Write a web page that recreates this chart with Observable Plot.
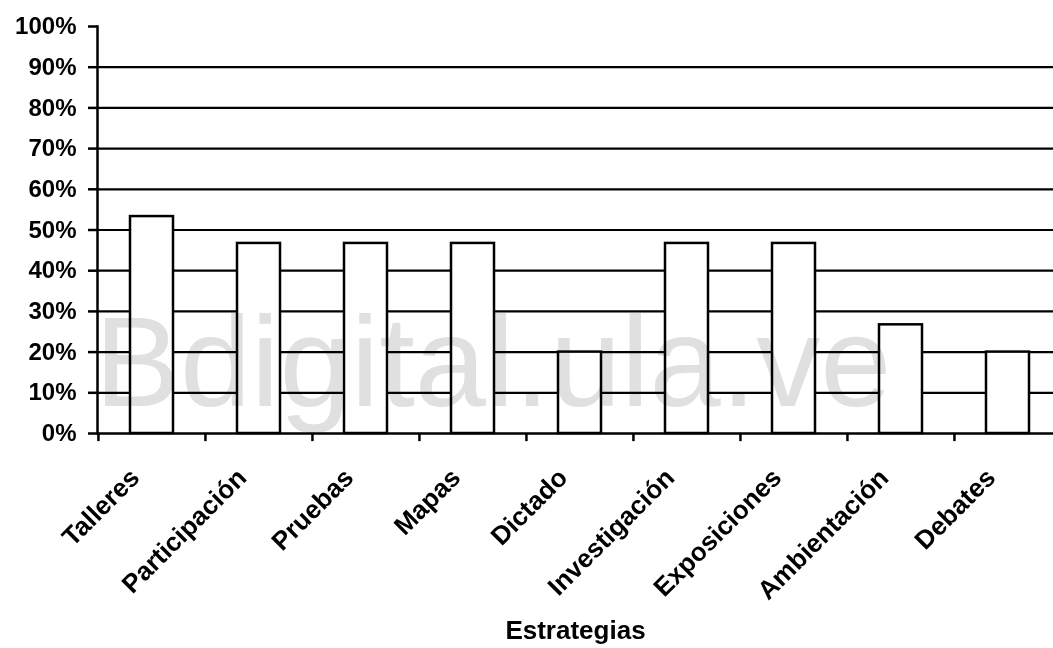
<!DOCTYPE html>
<html>
<head>
<meta charset="utf-8">
<script src="https://cdn.jsdelivr.net/npm/d3@7"></script>
<script src="https://cdn.jsdelivr.net/npm/@observablehq/plot@0.6"></script>
<style>
  html, body { margin: 0; padding: 0; background: #fff; }
  #chart svg { display: block; }
</style>
</head>
<body>
<div id="chart"></div>
<script>
const categories = ["Talleres", "Participación", "Pruebas", "Mapas", "Dictado", "Investigación", "Exposiciones", "Ambientación", "Debates"];
const values = [53.3, 46.7, 46.7, 46.7, 20, 46.7, 46.7, 26.7, 20];
const yTicks = [0, 10, 20, 30, 40, 50, 60, 70, 80, 90, 100];
const gridValues = [10, 20, 30, 40, 50, 60, 70, 80, 90];
const xTitle = "Estrategias";
const watermark = "Bdigital.ula.ve";

const data = categories.map((c, i) => ({categoria: c, valor: values[i]}));

const W = 1053, H = 648;
const mL = 97, mR = -8, mT = 26, mB = 215;
const step = (W - mL - mR) / categories.length;

const chart = Plot.plot({
  width: W,
  height: H,
  marginLeft: mL,
  marginRight: mR,
  marginTop: mT,
  marginBottom: mB,
  style: {fontFamily: "'Liberation Sans', Arial, sans-serif", background: "#fff", color: "#000", overflow: "visible"},
  x: {domain: categories, paddingInner: 0.6, paddingOuter: 0.3},
  y: {domain: [0, 100]},
  marks: [
    Plot.ruleY(gridValues, {stroke: "#000", strokeWidth: 2.2}),
    Plot.barY(data, {x: "categoria", y: "valor", fill: "#fff", stroke: "#000", strokeWidth: 2.5}),
    Plot.ruleY([0], {stroke: "#000", strokeWidth: 2.5}),
    Plot.frame({anchor: "left", stroke: "#000", strokeWidth: 2.5}),
    Plot.ruleX(categories, {x: d => d, dx: -step / 2, y1: 0, y2: -2, stroke: "#000", strokeWidth: 2.5}),
    Plot.axisY({
      ticks: yTicks,
      tickFormat: d => d + "%",
      tickSize: 9,
      tickPadding: 12,
      strokeWidth: 2.5,
      fontSize: 24,
      fontWeight: "bold",
      label: null
    }),
    Plot.axisX({
      tickSize: 0,
      tickRotate: -45,
      tickPadding: 40,
      dx: -17,
      fontSize: 26,
      fontWeight: "bold",
      label: null
    }),
    Plot.text([xTitle], {
      frameAnchor: "bottom",
      dx: -4,
      dy: 205,
      fontSize: 26,
      fontWeight: "bold",
      lineAnchor: "bottom"
    }),
    Plot.text([watermark], {
      frameAnchor: "bottom-left",
      textAnchor: "start",
      lineAnchor: "bottom",
      dx: -3,
      dy: -28,
      fontSize: 128,
      fontWeight: "normal",
      fill: "#e0e0e0",
      mixBlendMode: "multiply"
    })
  ]
});

document.getElementById("chart").appendChild(chart);
</script>
</body>
</html>
